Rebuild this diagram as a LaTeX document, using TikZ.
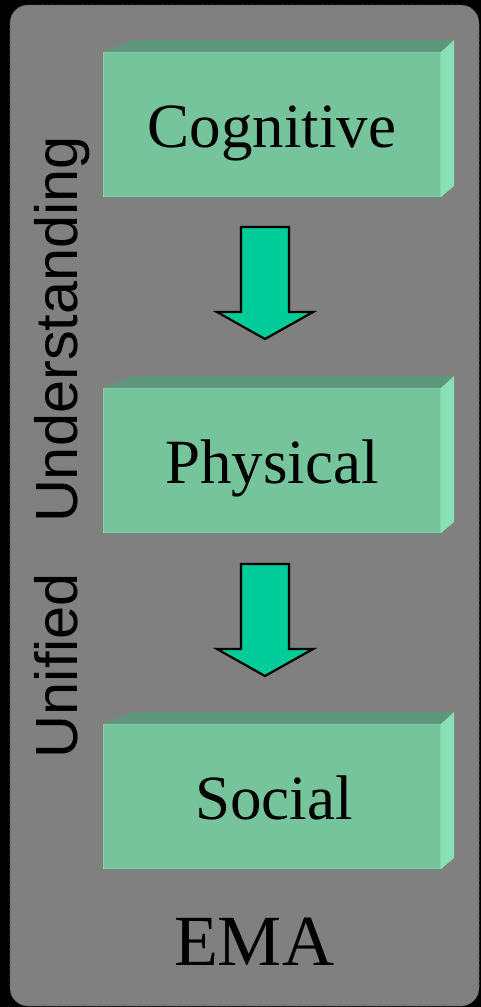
\documentclass[tikz,border=0pt]{standalone}
\usepackage{fontspec}
\setmainfont{Liberation Serif}
\newfontfamily\arialf{Liberation Sans}
\usetikzlibrary{calc}
\definecolor{bgc}{RGB}{128,128,128}
\definecolor{framec}{RGB}{90,90,90}
\definecolor{frontc}{RGB}{117,196,155}
\definecolor{topc}{RGB}{94,150,125}
\definecolor{sidec}{RGB}{135,225,180}
\definecolor{edgec}{RGB}{132,212,170}
\definecolor{arrowc}{RGB}{0,204,153}
\newcommand\blockarr[1]{%
  \draw[arr] (241,#1) -- (289,#1) -- (289,#1+85) -- (313,#1+85) -- (265,#1+112) -- (217,#1+85) -- (241,#1+85) -- cycle;}
\begin{document}
\begin{tikzpicture}[x=1pt,y=-1pt,
  box/.style={fill=frontc, draw=edgec, line width=1pt, minimum width=337pt, minimum height=144pt, inner sep=0pt, anchor=north west},
  topface/.style={fill=topc},
  sideface/.style={fill=sidec},
  arr/.style={fill=arrowc, draw=black, line width=2.2pt, line join=miter},
  lbl/.style={anchor=base, font=\fontsize{63}{70}\selectfont, text=black, inner sep=0pt}]
\fill[black] (0,0) rectangle (481,1007);
\useasboundingbox (0,0) rectangle (481,1007);
\draw[fill=bgc, draw=framec, densely dashed, line width=0.6pt, rounded corners=18pt] (10,5) rectangle (479,1006);

\foreach \nm/\yy in {cog/52, phy/388, soc/724}{
  \node[box] (\nm) at (103,\yy) {};
  \fill[topface] (\nm.north west) -- ++(30,-12) -- ($(\nm.north east)+(13,-12)$) -- (\nm.north east) -- cycle;
  \fill[sideface] (\nm.north east) -- ++(13,-12) -- ($(\nm.south east)+(13,-11)$) -- (\nm.south east) -- cycle;
}
\node[lbl] (cogt) at (272,147) {Cognitive};
\node[lbl] (phyt) at (272,483) {Physical};
\node[lbl] (soct) at (274,819) {Social};

\blockarr{227}
\blockarr{564}

\node[rotate=90, anchor=base, inner sep=0pt, font=\arialf\fontsize{59.5}{62}\selectfont] (uu) at (77,447) {Unified\hspace{50pt}Understanding};
\node[anchor=base, inner sep=0pt, font=\fontsize{72}{80}\selectfont] (ema) at (254,965) {EMA};
\end{tikzpicture}
\end{document}
